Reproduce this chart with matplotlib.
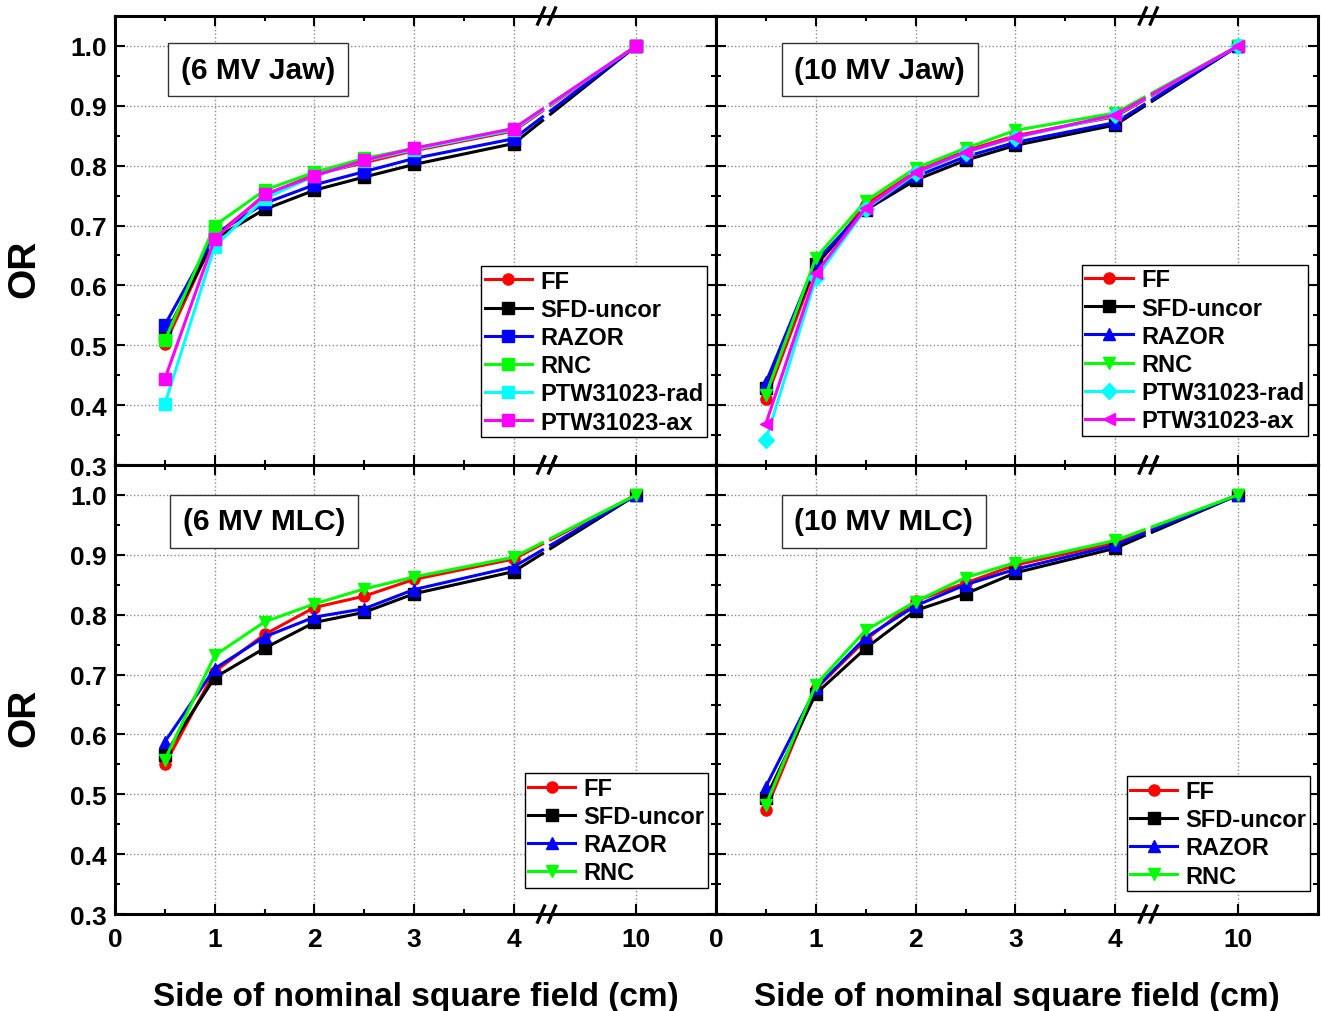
import numpy as np
import matplotlib
matplotlib.use("Agg")
import matplotlib.pyplot as plt
import matplotlib.transforms as mtransforms
from matplotlib.ticker import MultipleLocator, FixedLocator

plt.rcParams['font.family'] = ['Liberation Sans', 'DejaVu Sans']
plt.rcParams['font.weight'] = 'bold'

# field sizes (cm); 10 cm sits past the axis break
sizes = [0.5, 1, 1.5, 2, 2.5, 3, 4, 10]
tick_labels = ['0', '1', '2', '3', '4', '10']

# 6 MV Jaw
jaw6_ff = [0.502, 0.682, 0.750, 0.785, 0.805, 0.825, 0.858, 1.0]
jaw6_sfd = [0.516, 0.678, 0.727, 0.759, 0.781, 0.802, 0.837, 1.0]
jaw6_razor = [0.534, 0.685, 0.737, 0.768, 0.790, 0.812, 0.845, 1.0]
jaw6_rnc = [0.508, 0.700, 0.759, 0.789, 0.812, 0.829, 0.862, 1.0]
jaw6_rad = [0.402, 0.665, 0.745, 0.783, 0.808, 0.827, 0.860, 1.0]
jaw6_ax = [0.444, 0.678, 0.752, 0.783, 0.809, 0.829, 0.862, 1.0]

# 10 MV Jaw
jaw10_ff = [0.410, 0.632, 0.735, 0.790, 0.825, 0.850, 0.882, 1.0]
jaw10_sfd = [0.428, 0.635, 0.726, 0.776, 0.809, 0.834, 0.868, 1.0]
jaw10_razor = [0.438, 0.640, 0.728, 0.782, 0.815, 0.839, 0.872, 1.0]
jaw10_rnc = [0.417, 0.646, 0.741, 0.796, 0.829, 0.859, 0.888, 1.0]
jaw10_rad = [0.342, 0.612, 0.728, 0.787, 0.822, 0.847, 0.884, 1.0]
jaw10_ax = [0.369, 0.620, 0.730, 0.789, 0.823, 0.848, 0.885, 1.0]

# 6 MV MLC
mlc6_ff = [0.550, 0.705, 0.767, 0.812, 0.831, 0.859, 0.893, 1.0]
mlc6_sfd = [0.566, 0.695, 0.744, 0.787, 0.804, 0.835, 0.872, 1.0]
mlc6_razor = [0.588, 0.710, 0.763, 0.796, 0.810, 0.842, 0.880, 1.0]
mlc6_rnc = [0.558, 0.732, 0.788, 0.818, 0.843, 0.863, 0.896, 1.0]

# 10 MV MLC
mlc10_ff = [0.474, 0.676, 0.758, 0.823, 0.853, 0.883, 0.920, 1.0]
mlc10_sfd = [0.494, 0.668, 0.744, 0.807, 0.835, 0.870, 0.911, 1.0]
mlc10_razor = [0.513, 0.677, 0.762, 0.815, 0.850, 0.876, 0.916, 1.0]
mlc10_rnc = [0.482, 0.683, 0.774, 0.822, 0.862, 0.887, 0.924, 1.0]

POS_10 = 5.23
BREAK = 4.33
GAP = 0.08
XMAX = 6.03


def axis_pos(s):
    return s if s <= 4 else POS_10


xp = np.array([axis_pos(s) for s in sizes])


def draw_series(ax, y, color, marker, label):
    y = np.asarray(y)
    ln, = ax.plot(xp[:-1], y[:-1], color=color, marker=marker, ms=8,
                  lw=2.2, label=label, zorder=3)
    # last segment, cut at the axis break
    xa = BREAK - GAP / 2
    xb = BREAK + GAP / 2
    ya = np.interp(xa, xp[-2:], y[-2:])
    yb = np.interp(xb, xp[-2:], y[-2:])
    ax.plot([xp[-2], xa], [y[-2], ya], color=color, lw=2.2, zorder=3)
    ax.plot([xb, xp[-1]], [yb, y[-1]], color=color, lw=2.2, zorder=3)
    ax.plot(xp[-1:], y[-1:], color=color, marker=marker, ms=8, zorder=3)
    return ln


def style_axes(ax, show_x, show_y):
    ax.set_xlim(0, XMAX)
    ax.set_ylim(0.3, 1.05)
    ax.xaxis.set_major_locator(FixedLocator([0, 1, 2, 3, 4, POS_10]))
    ax.xaxis.set_minor_locator(FixedLocator([0.5, 1.5, 2.5, 3.5]))
    ax.yaxis.set_minor_locator(MultipleLocator(0.05))
    ax.set_xticklabels(tick_labels if show_x else [])
    ax.set_yticks(np.round(np.arange(0.3, 1.01, 0.1), 1))
    if show_y:
        ax.set_yticklabels(['%.1f' % v for v in np.arange(0.3, 1.01, 0.1)])
    else:
        ax.set_yticklabels([])
    ax.tick_params(which='both', direction='in', top=True, right=True,
                   labelsize=19, width=1.5)
    ax.tick_params(which='major', length=7, pad=6)
    ax.tick_params(axis='x', which='major', pad=9)
    ax.tick_params(which='minor', length=3.5)
    for sp in ax.spines.values():
        sp.set_linewidth(2.2)
    ax.grid(True, which='major', ls=':', color='#8a8a8a', lw=1.0)
    trans = mtransforms.blended_transform_factory(ax.transData, ax.transAxes)
    for yb in (0.0, 1.0):
        for off in (-0.055, 0.055):
            ax.plot([BREAK + off - 0.035, BREAK + off + 0.035],
                    [yb - 0.018, yb + 0.018], transform=trans,
                    color='black', lw=2.3, clip_on=False, zorder=5)


fig = plt.figure(figsize=(13.21, 10.12), dpi=100)
L, M, R = 0.0871, 0.542, 0.9977
B, C, T = 0.0958, 0.5395, 0.9832
ax1 = fig.add_axes([L, C, M - L, T - C])
ax2 = fig.add_axes([M, C, R - M, T - C])
ax3 = fig.add_axes([L, B, M - L, C - B])
ax4 = fig.add_axes([M, B, R - M, C - B])

style_axes(ax1, False, True)
style_axes(ax2, False, False)
style_axes(ax3, True, True)
style_axes(ax4, True, False)

draw_series(ax1, jaw6_ff, 'red', 'o', 'FF')
draw_series(ax1, jaw6_sfd, 'black', 's', 'SFD-uncor')
draw_series(ax1, jaw6_razor, 'blue', 's', 'RAZOR')
draw_series(ax1, jaw6_rnc, '#00ff00', 's', 'RNC')
draw_series(ax1, jaw6_rad, 'cyan', 's', 'PTW31023-rad')
draw_series(ax1, jaw6_ax, 'magenta', 's', 'PTW31023-ax')

draw_series(ax2, jaw10_ff, 'red', 'o', 'FF')
draw_series(ax2, jaw10_sfd, 'black', 's', 'SFD-uncor')
draw_series(ax2, jaw10_razor, 'blue', '^', 'RAZOR')
draw_series(ax2, jaw10_rnc, '#00ff00', 'v', 'RNC')
draw_series(ax2, jaw10_rad, 'cyan', 'D', 'PTW31023-rad')
draw_series(ax2, jaw10_ax, 'magenta', '<', 'PTW31023-ax')

draw_series(ax3, mlc6_ff, 'red', 'o', 'FF')
draw_series(ax3, mlc6_sfd, 'black', 's', 'SFD-uncor')
draw_series(ax3, mlc6_razor, 'blue', '^', 'RAZOR')
draw_series(ax3, mlc6_rnc, '#00ff00', 'v', 'RNC')

draw_series(ax4, mlc10_ff, 'red', 'o', 'FF')
draw_series(ax4, mlc10_sfd, 'black', 's', 'SFD-uncor')
draw_series(ax4, mlc10_razor, 'blue', '^', 'RAZOR')
draw_series(ax4, mlc10_rnc, '#00ff00', 'v', 'RNC')

legend_anchor = {ax1: (0.985, 0.062), ax2: (0.983, 0.065),
                 ax3: (0.987, 0.058), ax4: (0.987, 0.051)}
for ax, anc in legend_anchor.items():
    leg = ax.legend(loc='lower right', bbox_to_anchor=anc, borderaxespad=0,
                    fontsize=17, handlelength=2.0, handletextpad=0.35,
                    labelspacing=0.22, borderpad=0.15, fancybox=False,
                    framealpha=1, edgecolor='black')
    leg.get_frame().set_linewidth(1.0)

panel_labels = [(ax1, '(6 MV Jaw)', 0.238, 0.88), (ax2, '(10 MV Jaw)', 0.272, 0.88),
                (ax3, '(6 MV MLC)', 0.248, 0.875), (ax4, '(10 MV MLC)', 0.279, 0.875)]
for ax, txt, px, py in panel_labels:
    ax.text(px, py, txt, transform=ax.transAxes, ha='center', va='center',
            fontsize=21.5, fontweight='bold', zorder=6,
            bbox=dict(boxstyle='square,pad=0.42', facecolor='white',
                      edgecolor='#333333', linewidth=1.0))

for ax in (ax1, ax3):
    ax.set_ylabel('OR', fontsize=28, fontweight='bold')
    ax.yaxis.set_label_coords(-0.121, 0.439)
for ax in (ax3, ax4):
    ax.set_xlabel('Side of nominal square field (cm)', fontsize=24,
                  fontweight='bold', labelpad=22)

fig.savefig('out.png', dpi=100)
